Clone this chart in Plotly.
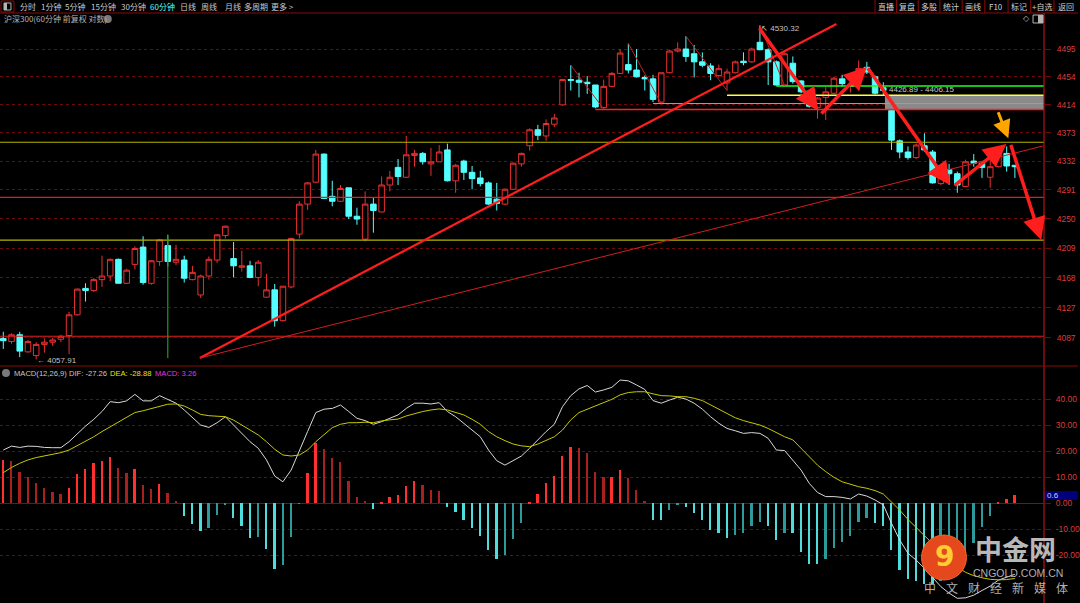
import math
import plotly.graph_objects as go

# ---------------- data ----------------
opens = [4086, 4082, 4091, 4068, 4063, 4078, 4081, 4085, 4090, 4118,
         4154, 4151, 4166, 4171, 4194, 4161, 4187, 4211, 4161, 4191,
         4213, 4190, 4193, 4166, 4145, 4171, 4193, 4227, 4195, 4183,
         4185, 4169, 4142, 4152, 4110, 4156, 4229, 4271, 4302, 4342,
         4282, 4275, 4294, 4254, 4222, 4271, 4260, 4298, 4323, 4309,
         4340, 4343, 4328, 4331, 4348, 4304, 4332, 4316, 4308, 4301,
         4278, 4271, 4292, 4328, 4354, 4377, 4368, 4385, 4413, 4450,
         4449, 4446, 4442, 4409, 4440, 4459, 4472, 4464, 4453, 4451,
         4417, 4460, 4492, 4495, 4488, 4476, 4470, 4456, 4445, 4460,
         4477, 4476, 4505, 4494, 4476, 4442, 4474, 4448, 4433, 4409,
         4424, 4430, 4451, 4440, 4463, 4468, 4454, 4438, 4405, 4361,
         4345, 4337, 4354, 4345, 4300, 4320, 4314, 4296, 4332, 4329,
         4309, 4324, 4343, 4326]
highs = [4095, 4093, 4095, 4084, 4081, 4086, 4087, 4091, 4122, 4154,
         4161, 4168, 4199, 4195, 4195, 4181, 4212, 4226, 4193, 4222,
         4228, 4214, 4199, 4185, 4173, 4198, 4229, 4241, 4218, 4206,
         4192, 4193, 4174, 4160, 4157, 4224, 4275, 4302, 4348, 4343,
         4304, 4298, 4294, 4266, 4289, 4280, 4310, 4318, 4335, 4368,
         4348, 4345, 4351, 4355, 4357, 4328, 4334, 4325, 4318, 4303,
         4301, 4293, 4330, 4344, 4379, 4384, 4392, 4400, 4451, 4471,
         4460, 4455, 4442, 4450, 4461, 4495, 4503, 4495, 4456, 4457,
         4460, 4494, 4505, 4514, 4501, 4490, 4474, 4472, 4466, 4478,
         4490, 4497, 4530.32, 4496, 4478, 4490, 4484, 4449, 4434, 4424,
         4439, 4454, 4457, 4449, 4478, 4476, 4456, 4446, 4406.15, 4363,
         4353, 4357, 4372, 4348, 4322, 4328, 4317, 4334, 4342, 4331,
         4334, 4345, 4353, 4326]
lows = [4072, 4079, 4061, 4067, 4057.91, 4067, 4076, 4081, 4065, 4117,
        4136, 4149, 4156, 4164, 4161, 4160, 4180, 4159, 4159, 4185,
        4184, 4186, 4162, 4165, 4141, 4166, 4189, 4223, 4169, 4177,
        4168, 4157, 4141, 4102, 4109, 4154, 4223, 4263, 4301, 4278,
        4268, 4274, 4250, 4242, 4219, 4231, 4260, 4289, 4298, 4308,
        4324, 4327, 4311, 4331, 4303, 4287, 4305, 4292, 4296, 4270,
        4262, 4270, 4291, 4324, 4347, 4362, 4361, 4381, 4412, 4434,
        4424, 4429, 4408, 4407, 4439, 4458, 4459, 4453, 4434, 4417,
        4415, 4459, 4490, 4476, 4453, 4468, 4449, 4453, 4434, 4459,
        4471, 4475, 4493, 4442, 4441, 4441, 4444, 4430, 4409, 4393,
        4391, 4429, 4440, 4431, 4434, 4458, 4428, 4426.89, 4348, 4336,
        4334, 4335, 4345, 4300, 4298, 4298, 4287, 4295, 4324, 4308,
        4294, 4323, 4317, 4308]
closes = [4083, 4091, 4069, 4082, 4078, 4081, 4084, 4089, 4118, 4153,
          4151, 4166, 4171, 4194, 4161, 4179, 4209, 4162, 4192, 4221,
          4191, 4194, 4168, 4176, 4171, 4194, 4228, 4240, 4185, 4185,
          4169, 4190, 4152, 4110, 4157, 4223, 4271, 4301, 4342, 4279,
          4275, 4293, 4254, 4250, 4271, 4262, 4298, 4309, 4310, 4341,
          4343, 4331, 4331, 4345, 4304, 4326, 4316, 4307, 4300, 4271,
          4272, 4292, 4329, 4343, 4377, 4369, 4386, 4394, 4450, 4449,
          4446, 4444, 4410, 4440, 4459, 4489, 4464, 4454, 4451, 4421,
          4460, 4492, 4495, 4484, 4476, 4471, 4459, 4466, 4461, 4476,
          4475, 4495, 4494, 4476, 4442, 4488, 4447, 4432, 4411, 4423,
          4432, 4452, 4444, 4443, 4466, 4461, 4430, 4434, 4362, 4345,
          4337, 4355, 4348, 4301, 4321, 4314, 4298, 4331, 4329, 4323,
          4324, 4343, 4325, 4324]

dif = [20.5, 22.0, 21.5, 22.0, 21.9, 21.5, 21.4, 21.4, 23.7, 26.9,
       29.7, 32.3, 35.3, 39.1, 38.7, 39.4, 41.9, 39.4, 39.4, 41.4,
       40.0, 38.5, 35.9, 32.9, 30.1, 29.2, 31.0, 33.3, 30.1, 27.2,
       23.7, 21.2, 16.7, 10.5, 8.3, 12.8, 19.9, 27.6, 34.9, 36.2,
       36.5, 37.8, 35.3, 32.7, 31.8, 30.4, 31.4, 32.7, 34.0, 36.5,
       38.5, 38.5, 38.2, 38.7, 35.3, 33.3, 30.8, 28.2, 25.6, 20.5,
       16.4, 14.7, 16.4, 18.2, 21.2, 24.6, 27.6, 30.4, 37.2, 41.4,
       44.0, 45.3, 42.8, 43.6, 44.6, 47.4, 47.1, 45.5, 43.8, 39.5,
       38.5, 39.7, 40.8, 40.1, 38.5, 36.2, 33.3, 30.8, 28.8, 27.9,
       26.9, 27.2, 26.9, 25.0, 20.5, 20.3, 16.7, 12.8, 7.7, 4.2,
       2.6, 2.6, 2.3, 1.7, 3.6, 2.8, 1.3, -0.6, -7.7, -14.1,
       -19.2, -21.8, -25.0, -28.5, -32.0, -34.5, -36.5, -36.3, -35.3, -33.5,
       -31.8, -29.5, -28.4, -27.26]
dea = [11.8, 13.8, 15.4, 16.7, 17.6, 18.3, 19.0, 19.5, 20.5, 22.1,
       23.7, 25.6, 27.6, 29.5, 31.4, 33.3, 34.9, 35.6, 36.5, 37.4,
       38.1, 38.2, 37.4, 35.9, 34.2, 33.7, 33.6, 33.3, 32.0, 30.1,
       28.2, 26.3, 23.7, 20.8, 18.6, 18.2, 18.6, 20.5, 23.7, 26.5,
       29.1, 30.4, 31.0, 31.0, 31.2, 31.0, 31.7, 32.1, 32.4, 33.6,
       34.6, 35.3, 35.9, 36.3, 35.9, 35.0, 34.0, 32.3, 30.4, 27.6,
       25.6, 24.1, 22.8, 22.1, 21.8, 22.8, 24.1, 25.6, 28.2, 32.1,
       34.9, 36.2, 37.4, 38.7, 40.0, 41.7, 42.6, 42.9, 42.9, 42.1,
       41.4, 41.3, 41.0, 41.0, 40.4, 39.5, 37.8, 36.2, 34.6, 32.9,
       31.8, 31.0, 30.1, 28.8, 27.2, 25.6, 24.4, 21.2, 17.9, 14.7,
       12.2, 10.0, 8.3, 7.3, 6.4, 5.8, 4.9, 3.6, 0.6, -2.6,
       -6.2, -9.2, -12.2, -15.4, -18.6, -21.8, -24.5, -26.5, -27.8, -28.6,
       -29.2, -29.4, -29.3, -28.88]
macd = [16.7, 16.4, 11.9, 10.3, 7.7, 5.8, 4.4, 3.6, 6.0, 11.3,
        13.3, 15.5, 16.3, 17.9, 13.7, 11.8, 13.3, 7.1, 5.6, 7.4,
        3.8, 0.9, -4.7, -7.8, -10.5, -9.5, -4.6, -0.4, -5.5, -8.7,
        -13.2, -12.8, -17.6, -25.4, -23.5, -12.8, -0.2, 11.7, 23.3, 21.0,
        17.3, 15.9, 8.7, 2.6, 0.9, -2.2, 0.3, 2.6, 3.2, 6.7,
        8.5, 7.1, 5.1, 4.7, -1.3, -3.3, -6.3, -9.4, -12.7, -18.1,
        -21.3, -20.0, -13.6, -7.4, 0.2, 3.6, 7.7, 10.5, 18.2, 21.5,
        21.3, 19.5, 12.1, 10.0, 10.1, 12.8, 9.9, 5.1, 0.9, -6.4,
        -6.4, -2.6, -0.4, -1.3, -3.6, -6.4, -10.3, -11.5, -13.2, -12.2,
        -11.5, -8.6, -7.1, -8.7, -14.1, -11.3, -11.3, -18.6, -23.3, -23.3,
        -21.5, -17.1, -14.7, -12.4, -7.3, -5.8, -7.7, -8.6, -17.9, -25.6,
        -29.0, -30.0, -31.0, -31.0, -30.0, -28.0, -25.0, -20.0, -15.4, -9.0,
        -4.9, 0.4, 1.7, 3.26]

price_ticks = [4087, 4127.8, 4168.6, 4209.4, 4250.2, 4291, 4331.8, 4372.6, 4413.4, 4454.2, 4495]
price_tick_text = ["4087", "4127", "4168", "4209", "4250", "4291", "4332", "4373", "4414", "4454", "4495"]
macd_ticks = [-20, -10, 0, 10, 20, 30, 40]
macd_tick_text = ["-20.00", "-10.00", "0.00", "10.00", "20.00", "30.00", "40.00"]

# horizontal reference levels drawn on the chart
level_red_low = 4089.0
level_yellow_low = 4220.7
level_red_mid = 4280.6
level_yellow_mid = 4359.0
gap_top = 4426.89
gap_bottom = 4406.15
level_orange = 4415.0
level_green = 4440.5
high_label = 4530.32
low_label = 4057.91

periods = ["分时", "1分钟", "5分钟", "15分钟", "30分钟", "60分钟", "日线", "周线", "月线", "多周期", "更多 >"]
buttons = ["直播", "复盘", "多股", "统计", "画线", "F10", "标记", "+自选", "返回"]
slogan = ["中", "文", "财", "经", "新", "媒", "体"]

# ---------------- layout helpers ----------------
W, H = 1080, 603
PW = 1046.0
X_LEFT, X_RIGHT = -0.40, 126.54
P_LOW, P_HIGH = 4049.1, 4538.2
M_LOW, M_HIGH = -38.3, 52.8
PRICE_DOM = [1 - 366 / H, 1 - 20 / H]
MACD_DOM = [0, 1 - 366 / H]


def xp(px):
    return px / PW


def yp(py):
    return 1 - py / H


def lg(v):
    return math.log10(v)


idx = list(range(len(opens)))

fig = go.Figure()


def hline(level, x0, x1, color, width=1.2):
    fig.add_trace(go.Scatter(x=[x0, x1], y=[level, level], mode="lines",
                             line=dict(color=color, width=width),
                             hoverinfo="skip", showlegend=False, xaxis="x", yaxis="y"))


hline(level_red_low, X_LEFT, X_RIGHT, "#e01e1e")
hline(level_yellow_low, X_LEFT, X_RIGHT, "#b4b400")
hline(level_red_mid, X_LEFT, X_RIGHT, "#e01e1e")
hline(level_yellow_mid, X_LEFT, X_RIGHT, "#b4b400")

# gap box
fig.add_trace(go.Scatter(x=[107.2, X_RIGHT, X_RIGHT, 107.2, 107.2],
                         y=[gap_bottom, gap_bottom, gap_top, gap_top, gap_bottom],
                         mode="lines", fill="toself", fillcolor="#8a8a8a",
                         line=dict(width=0, color="#8a8a8a"),
                         hoverinfo="skip", showlegend=False, xaxis="x", yaxis="y"))
hline(gap_bottom, 72, X_RIGHT, "#ff2020", 1.5)
hline(level_orange, 79, X_RIGHT, "#ff7850", 1.2)
hline(gap_top, 88, X_RIGHT, "#ffff40", 1.5)
hline(level_green, 94, X_RIGHT, "#20ff20", 1.5)

# vertical green marker at candle 20
fig.add_trace(go.Scatter(x=[20, 20], y=[4059.7, highs[20]], mode="lines",
                         line=dict(color="#1e9a1e", width=1.2),
                         hoverinfo="skip", showlegend=False, xaxis="x", yaxis="y"))

# candles
fig.add_trace(go.Candlestick(
    x=idx, open=opens, high=highs, low=lows, close=closes,
    increasing=dict(line=dict(color="#e8302f", width=1), fillcolor="#000000"),
    decreasing=dict(line=dict(color="#54ffff", width=1), fillcolor="#54ffff"),
    whiskerwidth=0, hoverinfo="skip", showlegend=False, xaxis="x", yaxis="y"))

# thin swing lines (high -> low)
for a, b in [(69, 73), (76, 80), (83, 88), (92, 95)]:
    fig.add_trace(go.Scatter(x=[a, b], y=[highs[a], lows[b]], mode="lines",
                             line=dict(color="#c81e1e", width=1),
                             hoverinfo="skip", showlegend=False, xaxis="x", yaxis="y"))

# trend lines
fig.add_trace(go.Scatter(x=[23.9, 101.3], y=[4059.7, 4532.2], mode="lines",
                         line=dict(color="#ff1e1e", width=2.2),
                         hoverinfo="skip", showlegend=False, xaxis="x", yaxis="y"))
fig.add_trace(go.Scatter(x=[23.9, 126.4], y=[4059.7, 4353.6], mode="lines",
                         line=dict(color="#d21e1e", width=1),
                         hoverinfo="skip", showlegend=False, xaxis="x", yaxis="y"))

# ---- MACD panel ----
bar_colors = []
for k, v in enumerate(macd):
    prev = macd[k - 1] if k > 0 else v
    if v >= 0:
        bar_colors.append("#ff3030" if v >= prev else "#a82020")
    else:
        bar_colors.append("#4fdcdc" if v <= prev else "#2c9a9a")

fig.add_trace(go.Bar(x=idx, y=macd, width=0.22, marker=dict(color=bar_colors, line=dict(width=0)),
                     hoverinfo="skip", showlegend=False, xaxis="x2", yaxis="y2"))
fig.add_trace(go.Scatter(x=idx, y=dif, mode="lines", line=dict(color="#d8d8d8", width=1),
                         hoverinfo="skip", showlegend=False, xaxis="x2", yaxis="y2"))
fig.add_trace(go.Scatter(x=idx, y=dea, mode="lines", line=dict(color="#c8c800", width=1),
                         hoverinfo="skip", showlegend=False, xaxis="x2", yaxis="y2"))

# ---------------- annotations ----------------
ann = []
CJK = "Noto Sans CJK SC"
LAT = "Liberation Sans"


def text(t, px, py, color="#c0c0c0", size=8, anchor="left", weight=None, family=CJK):
    f = dict(color=color, size=size, family=family)
    if weight:
        f["weight"] = weight
    ann.append(dict(text=t, x=xp(px), y=yp(py), xref="paper", yref="paper",
                    xanchor=anchor, yanchor="middle", showarrow=False, font=f))


def arrow(x0, p0, x1, p1, color="#ff1e1e", width=3.5, head=2, size=1.3):
    ann.append(dict(x=x1, y=lg(p1), ax=x0, ay=lg(p0), xref="x", yref="y",
                    axref="x", ayref="y", showarrow=True, arrowhead=head,
                    arrowsize=size, arrowwidth=width, arrowcolor=color, text="", standoff=0))


arrow(91.8, 4528.1, 99.1, 4404.5)
arrow(99.3, 4398.3, 105.0, 4468.9)
arrow(105.0, 4468.9, 115.1, 4298.0)
arrow(115.5, 4295.6, 121.97, 4356.4)
arrow(122.45, 4357.4, 126.2, 4220.7)
arrow(120.9, 4404.5, 122.2, 4364.6, color="#ffa500", width=3, size=1.2)

# value labels
ann.append(dict(text="↖ %.2f" % high_label, x=91.85, y=lg(4526.2), xref="x", yref="y",
                xanchor="left", yanchor="middle", showarrow=False,
                font=dict(color="#c0c0c0", size=8, family=LAT)))
ann.append(dict(text="← %.2f" % low_label, x=3.85, y=lg(4057.1), xref="x", yref="y",
                xanchor="left", yanchor="middle", showarrow=False,
                font=dict(color="#c0c0c0", size=8, family=LAT)))
ann.append(dict(text="%.2f - %.2f" % (gap_top, gap_bottom), x=107.4, y=lg(4434.7), xref="x", yref="y",
                xanchor="left", yanchor="middle", showarrow=False,
                font=dict(color="#c8c8c8", size=8, family=LAT)))

# toolbar
period_x = [18, 39, 63, 89, 119, 148, 178, 199, 223, 242, 270]
for t, px in zip(periods, period_x):
    text(t, px, 6.5, color="#54ffff" if t == "60分钟" else "#c8c8c8", size=8)

sep_x = [876.7, 898.3, 920, 941.7, 964, 986.7, 1010, 1032.7, 1056, 1080]
for k, t in enumerate(buttons):
    text(t, (sep_x[k] + sep_x[k + 1]) / 2, 6.5, color="#d0d0d0", size=8, anchor="center")

text("沪深300(60分钟 前复权 对数)", 2, 19, color="#b4b4b4", size=8)
text("◇", 1028, 19, color="#b4b4b4", size=8, anchor="center", family="DejaVu Sans")

# MACD title
text("MACD(12,26,9)", 12, 373, color="#c8c8c8", size=7.6, family=LAT)
text("DIF: %.2f" % dif[-1], 67, 373, color="#c8c8c8", size=7.6, family=LAT)
text("DEA: %.2f" % dea[-1], 108, 373, color="#e6e600", size=7.6, family=LAT)
text("MACD: %.2f" % macd[-1], 153, 373, color="#e632e6", size=7.6, family=LAT)

# blue marker on MACD axis
text("0.6", 1047, 495.5, color="#d0d0ff", size=8, family=LAT)

# logo watermark
text("9", 946, 556, color="#ffcc33", size=28, anchor="center", weight=700, family="DejaVu Sans")
text("中金网", 1017, 548, color="#b8b8b8", size=27, anchor="center", weight=700)
text("CNGOLD.COM.CN", 1020, 572.5, color="#b0b0b0", size=10.5, anchor="center", family=LAT)
for k, ch in enumerate(slogan):
    text(ch, 932 + 22 * k, 587, color="#b0b0b0", size=12, anchor="center")

# ---------------- shapes ----------------
RED = "#8c0a0a"
shapes = [
    dict(type="line", xref="paper", yref="paper", x0=0, x1=xp(1080), y0=yp(13), y1=yp(13),
         line=dict(color=RED, width=1)),
    dict(type="rect", xref="paper", yref="paper", x0=xp(1), x1=xp(14), y0=yp(12), y1=yp(1),
         line=dict(color=RED, width=1)),
    dict(type="rect", xref="paper", yref="paper", x0=xp(4), x1=xp(11), y0=yp(10), y1=yp(3),
         line=dict(color="#b4b4b4", width=1)),
    dict(type="rect", xref="paper", yref="paper", x0=xp(4), x1=xp(7), y0=yp(10), y1=yp(3),
         fillcolor="#b4b4b4", line=dict(width=0)),
    dict(type="line", xref="paper", yref="paper", x0=1, x1=1, y0=0, y1=yp(13),
         line=dict(color="#b41414", width=1.2)),
    dict(type="line", xref="paper", yref="paper", x0=0, x1=xp(1080), y0=yp(366), y1=yp(366),
         line=dict(color=RED, width=1.2)),
    dict(type="circle", xref="paper", yref="paper", x0=xp(104), x1=xp(112), y0=yp(23), y1=yp(15),
         fillcolor="#7a7a7a", line=dict(width=0)),
    dict(type="circle", xref="paper", yref="paper", x0=xp(2), x1=xp(10), y0=yp(377), y1=yp(369),
         fillcolor="#7a7a7a", line=dict(width=0)),
    dict(type="rect", xref="paper", yref="paper", x0=xp(1035), x1=xp(1045), y0=yp(23), y1=yp(15),
         line=dict(color="#b4b4b4", width=1)),
    dict(type="rect", xref="paper", yref="paper", x0=xp(1040), x1=xp(1045), y0=yp(23), y1=yp(15),
         fillcolor="#b4b4b4", line=dict(width=0)),
    dict(type="rect", xref="paper", yref="paper", x0=1, x1=xp(1080), y0=yp(500), y1=yp(491),
         fillcolor="#00007a", line=dict(width=0), layer="below"),
    dict(type="circle", xref="paper", yref="paper", x0=xp(923.3), x1=xp(968.3), y0=yp(580), y1=yp(535),
         fillcolor="#e5481c", line=dict(color="#f06a2a", width=1)),
]
for sx in sep_x[:-1]:
    shapes.append(dict(type="line", xref="paper", yref="paper", x0=xp(sx), x1=xp(sx), y0=yp(13), y1=yp(0),
                       line=dict(color=RED, width=1)))

fig.update_layout(
    width=W, height=H,
    margin=dict(l=0, r=W - PW, t=0, b=0),
    paper_bgcolor="#000000", plot_bgcolor="#000000",
    showlegend=False, bargap=0,
    boxgap=0.25, boxgroupgap=0.1,
    xaxis=dict(domain=[0, 1], range=[X_LEFT, X_RIGHT], anchor="y", showgrid=False,
               showticklabels=False, zeroline=False, showline=False, ticks="",
               rangeslider=dict(visible=False), fixedrange=True),
    xaxis2=dict(domain=[0, 1], range=[X_LEFT, X_RIGHT], anchor="y2", matches="x", showgrid=False,
                showticklabels=False, zeroline=False, showline=False, ticks="", fixedrange=True),
    yaxis=dict(domain=PRICE_DOM, type="log", range=[lg(P_LOW), lg(P_HIGH)], side="right",
               anchor="x", tickvals=price_ticks, ticktext=price_tick_text,
               tickfont=dict(color="#dc3c3c", size=8.5, family=LAT),
               showgrid=True, gridcolor="#6e0a0a", griddash="dot", gridwidth=1,
               ticks="outside", ticklen=6, tickcolor="#6e0a0a", ticklabelstandoff=4,
               zeroline=False, showline=False, fixedrange=True),
    yaxis2=dict(domain=MACD_DOM, range=[M_LOW, M_HIGH], side="right", anchor="x2",
                tickvals=macd_ticks, ticktext=macd_tick_text,
                tickfont=dict(color="#dc3c3c", size=8.5, family=LAT),
                showgrid=True, gridcolor="#6e0a0a", griddash="dot", gridwidth=1,
                ticks="outside", ticklen=6, tickcolor="#6e0a0a", ticklabelstandoff=3,
                zeroline=True, zerolinecolor="#8c0a0a", zerolinewidth=1,
                showline=False, fixedrange=True),
    annotations=ann,
    shapes=shapes,
)

fig.write_html("out.html", config={"displayModeBar": False},
               post_script="document.body.style.margin='0px';document.body.style.overflow='hidden';")
